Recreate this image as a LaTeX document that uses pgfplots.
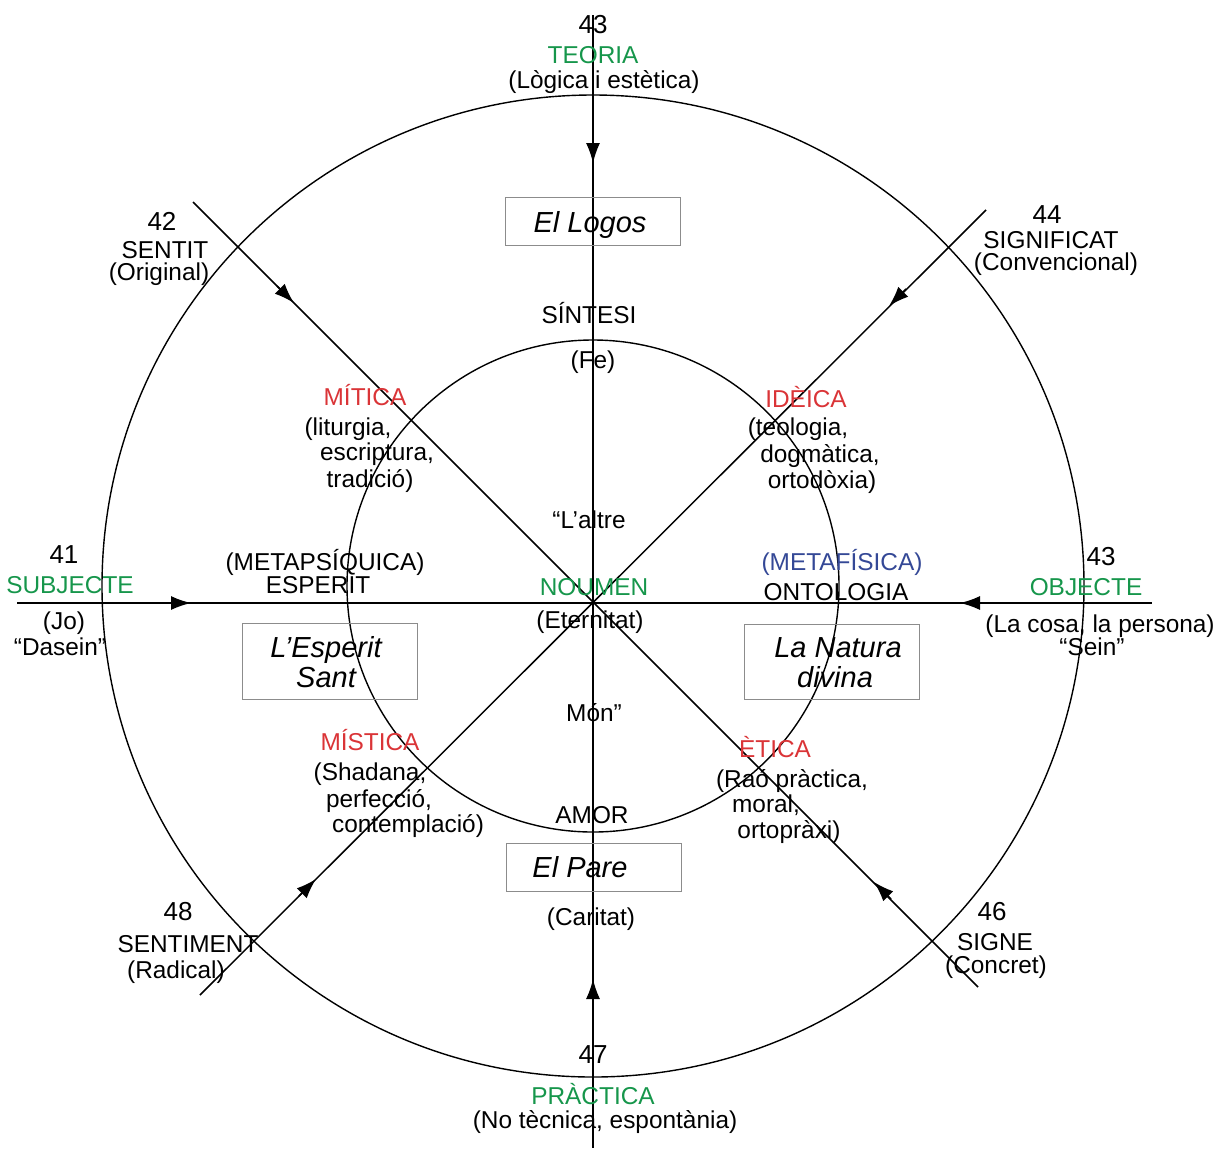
\documentclass[border=0pt]{standalone}
\usepackage{pgfplots}
\pgfplotsset{compat=1.18}
\usepackage{fontspec}
\setmainfont{Liberation Sans}
\usetikzlibrary{arrows.meta}

\definecolor{grn}{RGB}{22,150,75}
\definecolor{rd}{RGB}{218,52,55}
\definecolor{bl}{RGB}{52,72,150}
\definecolor{boxgray}{RGB}{140,140,140}

% label at baseline, x centred (pixel coordinates of the reference)
\newcommand{\lab}[4][black]{\node[anchor=base,text=#1,inner sep=0pt] at (axis cs:#2,#3) {#4};}
\newcommand{\num}[3]{\node[anchor=base,inner sep=0pt,font=\fontsize{13}{15}\selectfont] at (axis cs:#1,#2) {#3};}
\newcommand{\ital}[3]{\node[anchor=base,inner sep=0pt,font=\fontsize{14.5}{17}\selectfont\itshape] at (axis cs:#1,#2) {#3};}

\begin{document}
\begin{tikzpicture}[every node/.style={font=\fontsize{12.2}{14}\selectfont}]
\begin{axis}[
  hide axis,
  scale only axis,
  width=609pt, height=574pt,
  xmin=0, xmax=1218, ymin=0, ymax=1148,
  y dir=reverse,
  clip=false,
]
  \pgfplotsset{
    ray/.style={black, line width=0.75pt, mark=none},
    head/.style={black, line width=0.75pt, mark=none,
      -{Latex[length=10pt,width=7pt]}},
  }
  \path (axis cs:0,0) rectangle (axis cs:1218,1148);

  % circles
  \draw[line width=0.7pt] (axis cs:593,586) circle[radius=491];
  \draw[line width=0.7pt] (axis cs:593,586) circle[radius=246];

  % the four axes through the centre
  \addplot[ray] coordinates {(593,15) (593,1148)};
  \addplot[ray] coordinates {(17,603) (1152,603)};
  \addplot[ray] coordinates {(193,202) (978,987)};
  \addplot[ray] coordinates {(986,210) (200,995)};

  % arrowheads pointing inwards
  \addplot[head] coordinates {(593,140) (593,163)};
  \addplot[head] coordinates {(593,1002) (593,979)};
  \addplot[head] coordinates {(168,603) (191,603)};
  \addplot[head] coordinates {(983,603) (960,603)};
  \addplot[head] coordinates {(277,286) (294,303)};
  \addplot[head] coordinates {(906,289) (889,306)};
  \addplot[head] coordinates {(299,896) (316,879)};
  \addplot[head] coordinates {(891,899) (874,882)};

  % boxes
  \draw[boxgray, line width=0.5pt] (axis cs:505,197) rectangle (axis cs:680,245);
  \draw[boxgray, line width=0.5pt] (axis cs:242,623) rectangle (axis cs:417,699);
  \draw[boxgray, line width=0.5pt] (axis cs:744,624) rectangle (axis cs:919,699);
  \draw[boxgray, line width=0.5pt] (axis cs:506,843) rectangle (axis cs:681,891);

  \ital{590}{232}{El Logos}
  \ital{326}{657}{L’Esperit}
  \ital{326}{687}{Sant}
  \ital{838}{657}{La Natura}
  \ital{835}{687}{divina}
  \ital{580}{877}{El Pare}

  % top
  \num{593}{33}{43}
  \lab[grn]{593}{63}{TEORIA}
  \lab{604}{88}{(Lògica i estètica)}
  \lab{589}{323}{SÍNTESI}
  \lab{593}{368}{(Fe)}

  % upper left
  \num{162}{230}{42}
  \lab{165}{258}{SENTIT}
  \lab{159}{280}{(Original)}
  \lab[rd]{365}{405}{MÍTICA}
  \lab{348}{435}{(liturgia,}
  \lab{377}{460}{escriptura,}
  \lab{370}{487}{tradició)}

  % upper right
  \num{1047}{223}{44}
  \lab{1051}{248}{SIGNIFICAT}
  \lab{1056}{270}{(Convencional)}
  \lab[rd]{806}{407}{IDÈICA}
  \lab{798}{435}{(teologia,}
  \lab{820}{462}{dogmàtica,}
  \lab{822}{488}{ortodòxia)}

  % centre
  \lab{589}{528}{“L’altre}
  \lab[grn]{594}{595}{NOUMEN}
  \lab{590}{628}{(Eternitat)}
  \lab{594}{721}{Món”}
  \lab{592}{823}{AMOR}

  % left
  \num{64}{563}{41}
  \lab[grn]{70}{593}{SUBJECTE}
  \lab{64}{629}{(Jo)}
  \lab{60}{655}{“Dasein”}
  \lab{325}{570}{(METAPSÍQUICA)}
  \lab{318}{593}{ESPERIT}

  % right
  \num{1101}{565}{43}
  \lab[grn]{1086}{595}{OBJECTE}
  \lab{1100}{632}{(La cosa, la persona)}
  \lab{1092}{655}{“Sein”}
  \lab[bl]{842}{570}{(METAFÍSICA)}
  \lab{836}{600}{ONTOLOGIA}

  % lower left
  \lab[rd]{370}{750}{MÍSTICA}
  \lab{370}{780}{(Shadana,}
  \lab{379}{807}{perfecció,}
  \lab{408}{832}{contemplació)}
  \num{178}{920}{48}
  \lab{188}{952}{SENTIMENT}
  \lab{176}{978}{(Radical)}

  % lower right
  \lab[rd]{775}{757}{ÈTICA}
  \lab{792}{787}{(Raó pràctica,}
  \lab{766}{812}{moral,}
  \lab{789}{838}{ortopràxi)}
  \num{992}{920}{46}
  \lab{995}{950}{SIGNE}
  \lab{996}{973}{(Concret)}

  % bottom
  \lab{591}{925}{(Caritat)}
  \num{593}{1063}{47}
  \lab[grn]{593}{1104}{PRÀCTICA}
  \lab{605}{1128}{(No tècnica, espontània)}
\end{axis}
\end{tikzpicture}
\end{document}
